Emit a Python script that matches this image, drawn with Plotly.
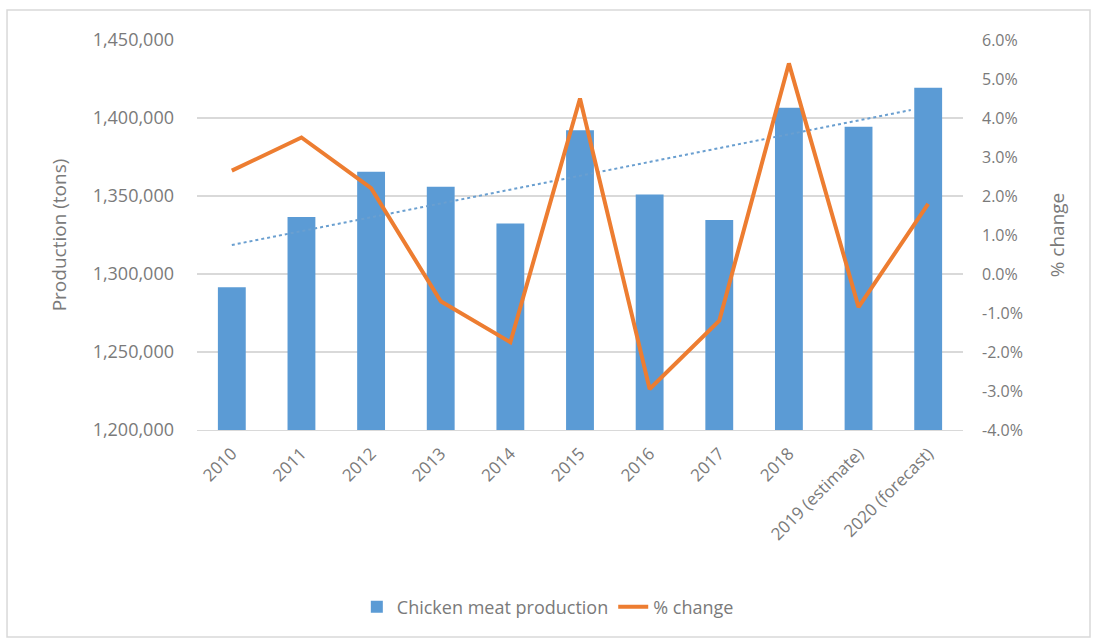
import plotly.graph_objects as go

categories = ["2010", "2011", "2012", "2013", "2014", "2015", "2016", "2017", "2018",
              "2019 (estimate)", "2020 (forecast)"]
production = [1291500, 1336500, 1365600, 1356000, 1332300, 1392100, 1351000, 1334600,
              1406600, 1394400, 1419400]
pct_change = [2.65, 3.5, 2.2, -0.7, -1.75, 4.5, -2.95, -1.2, 5.4, -0.85, 1.8]
trend_x = [0, 9.75]
trend_y = [1318600, 1405100]

left_ticks = [1200000, 1250000, 1300000, 1350000, 1400000, 1450000]
left_ticktext = [f"{v:,}" for v in left_ticks]
right_ticks = [-4, -3, -2, -1, 0, 1, 2, 3, 4, 5, 6]
right_ticktext = [f"{v:.1f}%" for v in right_ticks]

BLUE = "#5B9BD5"
ORANGE = "#ED7D31"
GRAY = "#7A7A7A"
FONT = "Open Sans"

xs = list(range(len(categories)))

fig = go.Figure()
fig.add_trace(go.Bar(x=xs, y=production, name="Chicken meat production",
                     marker=dict(color=BLUE, line=dict(width=0)), yaxis="y"))
fig.add_trace(go.Scatter(x=trend_x, y=trend_y, mode="lines", showlegend=False,
                         line=dict(color="#6A9FD0", width=2, dash="dot"), yaxis="y",
                         hoverinfo="skip"))
fig.add_trace(go.Scatter(x=xs, y=pct_change, name="% change", mode="lines",
                         line=dict(color=ORANGE, width=4), yaxis="y2"))

fig.update_layout(
    width=1097, height=644,
    margin=dict(l=197, r=134, t=40, b=214),
    paper_bgcolor="white", plot_bgcolor="white",
    font=dict(family=FONT, color=GRAY, size=17),
    bargap=0.6,
    showlegend=True,
    legend=dict(orientation="h", x=0.458, xanchor="center", y=-0.454, yanchor="middle",
                font=dict(size=18, color=GRAY), traceorder="normal"),
    xaxis=dict(range=[-0.5, len(categories) - 0.5], tickmode="array", tickvals=xs,
               ticktext=categories, tickangle=-45, showgrid=False, zeroline=False,
               showline=True, linecolor="#D9D9D9", ticks="", tickfont=dict(size=17),
               ticklabelstandoff=6),
    yaxis=dict(range=[1200000, 1450000], tickmode="array", tickvals=left_ticks,
               ticktext=left_ticktext, showgrid=True, gridcolor="#D9D9D9", gridwidth=1.5,
               zeroline=False, showline=False, ticks="", ticklen=0,
               ticklabelstandoff=22,
               title=dict(text="Production (tons)", font=dict(size=19, color=GRAY),
                          standoff=20),
               tickfont=dict(size=18)),
    yaxis2=dict(range=[-4, 6], tickmode="array", tickvals=right_ticks,
                ticktext=right_ticktext, overlaying="y", side="right", showgrid=False,
                zeroline=False, showline=False, ticklabelstandoff=18,
                title=dict(text="% change", font=dict(size=19, color=GRAY), standoff=28),
                tickfont=dict(size=16)),
)

fig.add_shape(type="rect", xref="paper", yref="paper", x0=-0.248, x1=1.1658,
              y0=-0.531, y1=1.077, line=dict(color="#D9D9D9", width=1.5),
              fillcolor="rgba(0,0,0,0)", layer="below")

fig.write_html("out.html")
